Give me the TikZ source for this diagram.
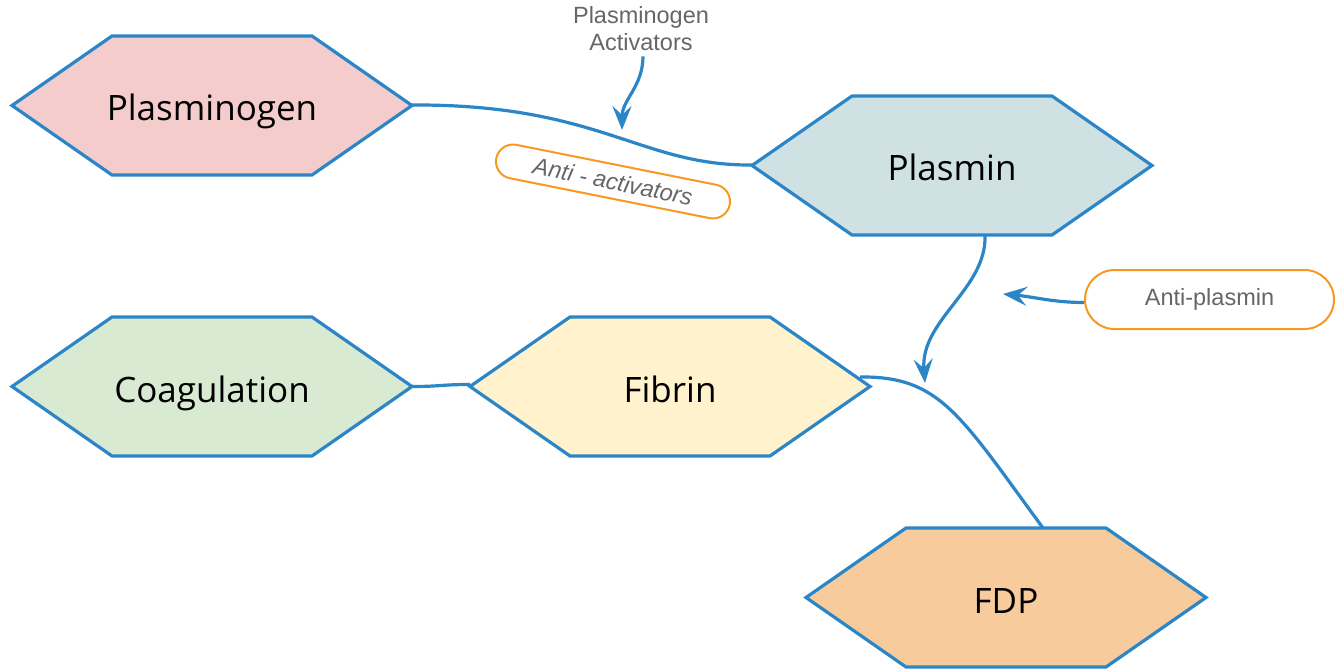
\documentclass[tikz,border=0pt]{standalone}
\usepackage{fontspec}
\setmainfont{Liberation Sans}
\newfontfamily\hexfont{Open Sans}
\usetikzlibrary{arrows.meta,calc,shapes.misc}

\definecolor{linkblue}{HTML}{2A86C7}
\definecolor{pillorange}{HTML}{F9981F}
\definecolor{notegray}{HTML}{666666}
\definecolor{fillpink}{HTML}{F4CCCC}
\definecolor{fillteal}{HTML}{D0E1E4}
\definecolor{fillgreen}{HTML}{D9EAD3}
\definecolor{fillcream}{HTML}{FFF2CC}
\definecolor{fillpeach}{HTML}{F8CB9C}

\tikzset{
  hexbox/.style={draw=linkblue, line width=3.2pt, line join=miter},
  hexlabel/.style={inner sep=0pt, outer sep=0pt, minimum width=400pt,
    minimum height=139pt, text height=31pt, text depth=0pt,
    font=\hexfont\fontsize{35}{40}\selectfont},
  link/.style={draw=linkblue, line width=3.2pt},
  tipped/.style={-{Stealth[length=24pt,width=19pt,inset=9pt]}},
  note/.style={text=notegray, font=\fontsize{23.5}{27}\selectfont, inner sep=0pt},
  pill/.style={draw=pillorange, line width=2pt, rounded rectangle, inner sep=0pt,
    text=notegray, font=\fontsize{23.5}{27}\selectfont},
}

% hexagon: name, centre x, centre y, fill, label
\newcommand\hexagonnode[5]{%
  \filldraw[hexbox, fill=#4] ({#2-200},#3) -- ({#2-100},{#3-69.5})
    -- ({#2+100},{#3-69.5}) -- ({#2+200},#3) -- ({#2+100},{#3+69.5})
    -- ({#2-100},{#3+69.5}) -- cycle;
  \node[hexlabel] (#1) at (#2,#3) {#5};}

\begin{document}
\begin{tikzpicture}[x=1pt,y=-1pt]
\useasboundingbox (0,0) rectangle (1336,671);

% connectors that run under the shapes
\draw[link] (412,105) .. controls (600,104) and (640,166) .. (752,165);
\draw[link] (412,386.5) .. controls (441,386.5) and (441,384.5) .. (470,384.5);
\draw[link] (860,377) .. controls (940,376) and (960,415) .. (1043,528);

% the hexagons
\hexagonnode{plasminogen}{212}{105.5}{fillpink}{Plasminogen}
\hexagonnode{plasmin}{952}{165.5}{fillteal}{Plasmin}
\hexagonnode{coagulation}{212}{386.5}{fillgreen}{Coagulation}
\hexagonnode{fibrin}{670}{386.5}{fillcream}{Fibrin}
\hexagonnode{fdp}{1006}{597.5}{fillpeach}{FDP}

% side notes
\node[note, align=center] (activators) at (641,29) {Plasminogen\\Activators};
\node[pill, minimum width=249pt, minimum height=59pt] (antiplasmin) at (1209.5,299.5) {Anti-plasmin};
\node[pill, rotate=-11.3, minimum width=238pt, minimum height=34pt,
  font=\itshape\fontsize{23.5}{27}\selectfont] (antiact) at (613,181.5) {Anti - activators};

% arrow ends
\coordinate (actTip) at (622,130);
\coordinate (plasTip) at (925,383);
\coordinate (antiTip) at (1003,294);

% arrows
\draw[link, tipped] ($(activators.south)+(2,5)$) .. controls +(0,30) and (622,100) .. (actTip);
\draw[link, tipped] ($(plasmin.south)+(33,0)$) .. controls +(2,54) and (920,320) .. (plasTip);
\draw[link, tipped] ($(antiplasmin.west)+(0,3)$) .. controls +(-30,0) and (1035,297) .. (antiTip);
\end{tikzpicture}
\end{document}
